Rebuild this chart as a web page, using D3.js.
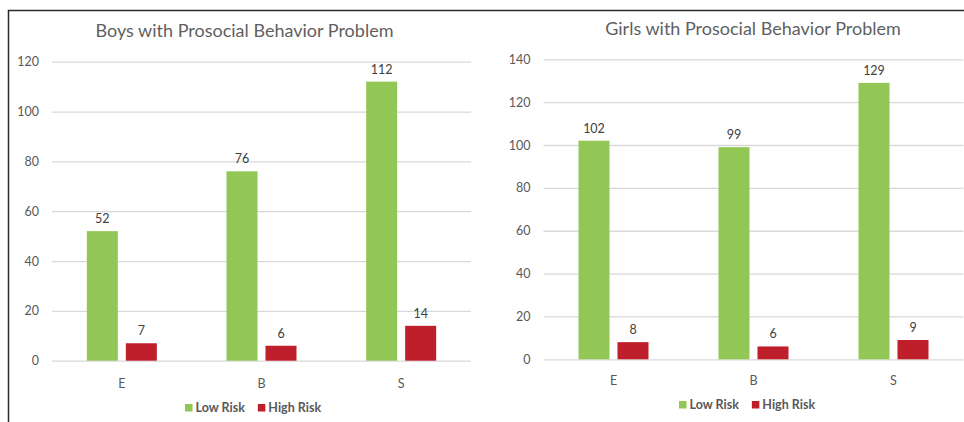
<!DOCTYPE html>
<html>
<head>
<meta charset="utf-8">
<script src="https://cdn.jsdelivr.net/npm/d3@7/dist/d3.min.js"></script>
<style>
  html, body { margin: 0; padding: 0; background: #fff; }
  svg { display: block; }
  text { font-family: Lato, "Open Sans", sans-serif; }
</style>
</head>
<body>
<svg id="chart" width="964" height="422"></svg>
<script>
// Counts of children with prosocial behaviour problems, per school group
const categories = ["E", "B", "S"];
const seriesNames = ["Low Risk", "High Risk"];
const boysLow = [52, 76, 112];
const boysHigh = [7, 6, 14];
const girlsLow = [102, 99, 129];
const girlsHigh = [8, 6, 9];
const boysTicks = [0, 20, 40, 60, 80, 100, 120];
const girlsTicks = [0, 20, 40, 60, 80, 100, 120, 140];

const colors = { "Low Risk": "#92c756", "High Risk": "#bf1f2a" };

const svg = d3.select("#chart");

// outer frame (top and left rules)
svg.append("path")
  .attr("d", "M8.5,422 V10.5 H964")
  .attr("fill", "none")
  .attr("stroke", "#2b2b2b")
  .attr("stroke-width", 1.5);

function panel(opts) {
  const g = svg.append("g");
  const x = d3.scaleBand().domain(categories).range([opts.left, opts.right]);
  const y = d3.scaleLinear().domain([0, d3.max(opts.ticks)]).range([opts.zeroY, opts.topY]);

  // title
  g.append("text")
    .attr("x", opts.titleX).attr("y", opts.titleY)
    .attr("text-anchor", "middle")
    .attr("font-size", 18)
    .attr("fill", "#5f5f5f")
    .text(opts.title);

  // gridlines + y labels
  const yAxis = d3.axisLeft(y).tickValues(opts.ticks).tickSize(-(opts.right - opts.left)).tickPadding(opts.labelPad);
  const ya = g.append("g").attr("transform", `translate(${opts.left},0)`).call(yAxis);
  ya.select(".domain").remove();
  ya.selectAll(".tick line").attr("stroke", "#d9d9d9").attr("stroke-width", 1.3);
  ya.selectAll(".tick text").attr("font-size", 12.5).attr("fill", "#595959")
    .attr("font-family", "Lato, sans-serif");

  // x labels
  const xAxis = d3.axisBottom(x).tickSize(0).tickPadding(opts.xPad);
  const xa = g.append("g").attr("transform", `translate(0,${opts.zeroY})`).call(xAxis);
  xa.select(".domain").remove();
  xa.selectAll(".tick text").attr("font-size", 12.5).attr("fill", "#595959")
    .attr("font-family", "Lato, sans-serif");

  // bars
  const barW = 31, gap = 8;
  const series = [
    { name: "Low Risk", values: opts.low, offset: -gap / 2 - barW },
    { name: "High Risk", values: opts.high, offset: gap / 2 }
  ];
  series.forEach(s => {
    const cx = c => x(c) + x.bandwidth() / 2;
    g.selectAll(null).data(categories).enter().append("rect")
      .attr("x", c => cx(c) + s.offset)
      .attr("width", barW)
      .attr("y", (c, i) => y(s.values[i]))
      .attr("height", (c, i) => y(0) - y(s.values[i]))
      .attr("fill", colors[s.name]);
    g.selectAll(null).data(categories).enter().append("text")
      .attr("x", c => cx(c) + s.offset + barW / 2)
      .attr("y", (c, i) => y(s.values[i]) - 8)
      .attr("text-anchor", "middle")
      .attr("font-size", 12.5)
      .attr("fill", "#404040")
      .text((c, i) => s.values[i]);
  });

  // legend
  const lg = g.append("g").attr("transform", `translate(${opts.legendX},${opts.legendY})`);
  let lx = 0;
  seriesNames.forEach(name => {
    lg.append("rect").attr("x", lx).attr("y", -7.5).attr("width", 7.5).attr("height", 7.5)
      .attr("fill", colors[name]);
    const t = lg.append("text").attr("x", lx + 10.5).attr("y", 0)
      .attr("font-size", 12.5).attr("font-weight", 700).attr("fill", "#595959").text(name);
    lx += 10.5 + t.node().getComputedTextLength() + 13;
  });
}

panel({
  title: "Boys with Prosocial Behavior Problem", titleX: 244.5, titleY: 37,
  left: 52, right: 471, zeroY: 360.7, topY: 61.7, ticks: boysTicks,
  low: boysLow, high: boysHigh, labelPad: 13, xPad: 18,
  legendX: 185, legendY: 411.5
});

panel({
  title: "Girls with Prosocial Behavior Problem", titleX: 753, titleY: 35,
  left: 543.5, right: 963.5, zeroY: 359.3, topY: 59.3, ticks: girlsTicks,
  low: girlsLow, high: girlsHigh, labelPad: 13, xPad: 17,
  legendX: 679, legendY: 408.5
});
</script>
</body>
</html>
